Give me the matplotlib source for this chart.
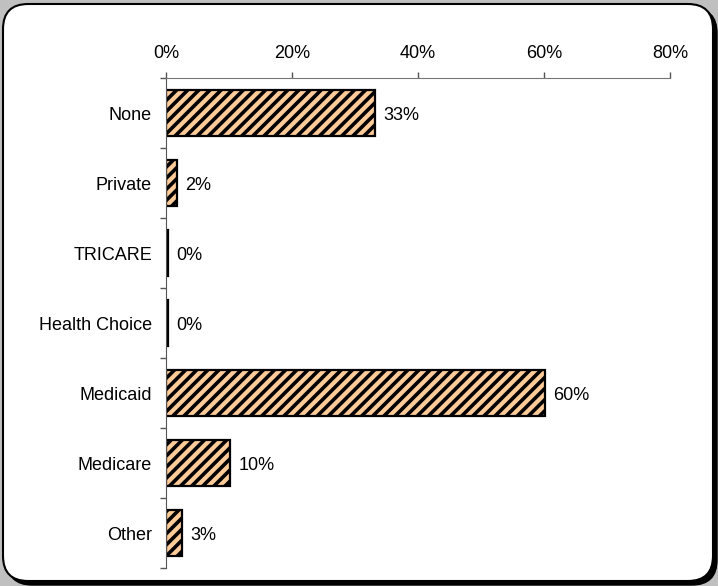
import matplotlib.pyplot as plt
from matplotlib.patches import FancyBboxPatch
import numpy as np

plt.rcParams['font.family'] = ['Liberation Sans', 'DejaVu Sans']
plt.rcParams['hatch.linewidth'] = 2.6
plt.rcParams['hatch.color'] = '#333333'

categories = ['None', 'Private', 'TRICARE', 'Health Choice', 'Medicaid', 'Medicare', 'Other']
values = [33.2, 1.7, 0.25, 0.25, 60.1, 10.2, 2.6]
labels = ['33%', '2%', '0%', '0%', '60%', '10%', '3%']
xticks = [0, 20, 40, 60, 80]

fig = plt.figure(figsize=(7.18, 5.86), dpi=100)
fig.patch.set_facecolor('#c0c0c0')
W, H = 718, 586

# rounded white panel with a drop shadow
def px_box(x0, y0, x1, y1, **kw):
    return FancyBboxPatch((x0 / W, 1 - y1 / H), (x1 - x0) / W, (y1 - y0) / H,
                          boxstyle='round,pad=0,rounding_size=0.035',
                          transform=fig.transFigure, mutation_aspect=W / H,
                          zorder=-10, **kw)

fig.patches.append(px_box(7, 8, 717, 585, facecolor='black', edgecolor='black', lw=1))
fig.patches.append(px_box(3, 4, 713, 581, facecolor='white', edgecolor='black', lw=1.5))

ax = fig.add_axes([166 / W, 1 - 568 / H, (670 - 166) / W, (568 - 78) / H])
ax.set_facecolor('none')

y = np.arange(len(categories))
bars = ax.barh(y, values, height=0.67, color='#ffcc99', edgecolor='black',
               linewidth=1.6, hatch='///')
for yi, v, lab in zip(y, values, labels):
    ax.text(v + 1.3, yi, lab, va='center_baseline', ha='left', fontsize=13)

ax.set_xlim(0, 80)
ax.set_ylim(len(categories) - 0.5, -0.5)
ax.xaxis.tick_top()
ax.set_xticks(xticks)
ax.set_xticklabels([f'{t}%' for t in xticks], fontsize=13)
ax.tick_params(axis='x', direction='out', length=4.5, width=1, color='#555555', pad=7)

ax.set_yticks(y)
ax.set_yticklabels(categories, fontsize=13, va='center_baseline')
ax.tick_params(axis='y', which='major', length=0, pad=10)
ax.set_yticks(np.arange(-0.5, len(categories)), minor=True)
ax.tick_params(axis='y', which='minor', direction='out', length=4.5, width=1, color='#555555')

for s in ['right', 'bottom']:
    ax.spines[s].set_visible(False)
ax.spines['top'].set_color('#777777')
ax.spines['left'].set_color('#555555')

fig.savefig('out.png', dpi=100, facecolor=fig.get_facecolor())
